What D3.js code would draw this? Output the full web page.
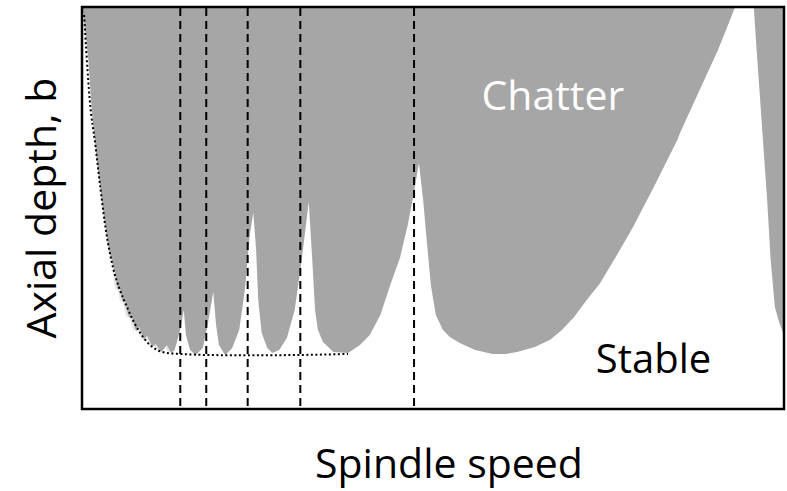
<!DOCTYPE html>
<html>
<head>
<meta charset="utf-8">
<script src="https://cdn.jsdelivr.net/npm/d3@7"></script>
<style>
  body { margin: 0; background: #fff; }
  svg { display: block; }
  text { font-family: "Open Sans", "Noto Sans", sans-serif; }
</style>
</head>
<body>
<svg id="mainsvg" width="787" height="491"></svg>
<script>
// lobe boundary, spindle speed (0-100) vs axial depth (0-100), arbitrary units
const lobeMainSpeed = [0.1, 0.9, 1.4, 2.1, 3.0, 3.8, 4.7, 5.1, 5.4, 5.8, 6.1, 6.7, 7.0, 7.7, 8.1, 8.8, 9.3, 10.0, 10.5, 11.3, 12.1, 12.7, 13.2, 14.0, 14.5, 14.8, 15.4, 16.2, 17.2, 17.9, 18.7, 19.1, 19.5, 20.4, 21.4, 22.4, 23.2, 23.9, 24.4, 24.8, 25.1, 25.6, 26.4, 27.1, 28.1, 29.2, 30.3, 31.3, 32.3, 32.8, 33.2, 33.6, 34.3, 35.8, 37.9, 39.6, 41.0, 42.5, 43.9, 45.3, 46.4, 47.3, 48.0, 48.6, 49.1, 49.7, 50.4, 51.4, 52.4, 53.8, 56.0, 58.5, 60.3, 62.0, 64.5, 66.7, 68.4, 70.1, 71.9, 73.8, 76.2, 78.5, 81.6, 84.8, 85.2, 88.0, 90.6, 93.0]
const lobeMainDepth = [99.8, 86.8, 74.4, 61.9, 49.5, 39.6, 34.1, 29.6, 30.1, 26.6, 27.1, 22.6, 23.6, 19.2, 20.6, 17.2, 18.2, 15.4, 16.2, 14.2, 15.9, 13.9, 14.7, 19.7, 24.6, 18.4, 14.7, 13.4, 15.2, 20.9, 29.1, 20.9, 15.9, 13.4, 15.2, 19.7, 29.6, 43.3, 48.8, 39.6, 27.1, 18.9, 15.2, 13.9, 14.7, 17.7, 24.6, 37.1, 51.5, 37.1, 24.6, 19.7, 16.7, 14.2, 13.9, 15.9, 18.4, 23.4, 30.8, 37.6, 45.8, 54.0, 61.2, 52.0, 42.0, 30.8, 23.4, 19.7, 17.9, 16.4, 14.7, 13.7, 13.7, 14.2, 15.4, 17.2, 19.7, 22.9, 27.1, 31.3, 38.3, 45.3, 55.7, 66.9, 68.7, 79.4, 89.3, 99.8]

const lobeRightSpeed = [95.7, 96.1, 96.6, 97.1, 97.6, 98.1, 98.7, 99.3, 100]
const lobeRightDepth = [99.8, 89.3, 76.9, 64.4, 52.0, 37.1, 25.4, 21.6, 18.4]

// stability limit envelope (dotted)
const envSpeed = [0.3, 0.6, 1.1, 1.9, 2.6, 3.4, 4.4, 5.4, 6.4, 7.4, 8.3, 9.4, 10.7, 12.3, 14.0, 19.7, 28.2, 37.9]
const envDepth = [98.0, 89.3, 76.9, 65.7, 55.2, 44.5, 35.3, 29.6, 25.4, 21.6, 18.9, 16.4, 14.7, 13.9, 13.7, 13.4, 13.4, 13.7]

// best spindle speeds (dashed)
const bestSpeeds = [14.0, 17.7, 23.6, 31.1, 47.3]

const labels = {x: 'Spindle speed', y: 'Axial depth, b', chatter: 'Chatter', stable: 'Stable'}

const margin = {left: 82, top: 7, right: 3, bottom: 82}
const width = 787 - margin.left - margin.right
const height = 491 - margin.top - margin.bottom

const svg = d3.select('#mainsvg')
const g = svg.append('g').attr('transform', `translate(${margin.left},${margin.top})`)

const x = d3.scaleLinear().domain([0, 100]).range([0, width])
const y = d3.scaleLinear().domain([0, 100]).range([height, 0])

const toPts = (sp, dp) => sp.map((s, i) => [s, dp[i]])

const area = d3.area()
    .x(d => x(d[0]))
    .y0(y(100))
    .y1(d => y(d[1]))
    .curve(d3.curveLinear)

const mainPts = toPts(lobeMainSpeed, lobeMainDepth)

// faint scallops along the small lobes on the left
g.append('path')
    .datum(mainPts.filter(d => d[0] > 4 && d[0] < 13.5))
    .attr('d', area)
    .attr('transform', 'translate(-2.5,0)')
    .attr('fill', '#e4e4e4')

g.append('path')
    .datum(mainPts)
    .attr('d', area)
    .attr('fill', '#a6a6a6')

g.append('path')
    .datum(toPts(lobeRightSpeed, lobeRightDepth))
    .attr('d', area)
    .attr('fill', '#a6a6a6')

// dotted envelope
g.append('path')
    .datum(toPts(envSpeed, envDepth))
    .attr('d', d3.line().x(d => x(d[0])).y(d => y(d[1])).curve(d3.curveMonotoneX))
    .attr('fill', 'none')
    .attr('stroke', '#000')
    .attr('stroke-width', 2)
    .attr('stroke-dasharray', '2,2.5')

// dashed lines
g.selectAll('.best')
    .data(bestSpeeds)
    .enter().append('line')
    .attr('class', 'best')
    .attr('x1', d => x(d)).attr('x2', d => x(d))
    .attr('y1', 1).attr('y2', height)
    .attr('stroke', '#000')
    .attr('stroke-width', 2)
    .attr('stroke-dasharray', '8,5')

// frame
g.append('rect')
    .attr('x', 0).attr('y', 0)
    .attr('width', width).attr('height', height)
    .attr('fill', 'none')
    .attr('stroke', '#000')
    .attr('stroke-width', 2.5)

g.append('text')
    .attr('x', x(56.9)).attr('y', y(74.4))
    .attr('fill', '#fff')
    .attr('font-size', 41)
    .text(labels.chatter)

g.append('text')
    .attr('x', x(73.2)).attr('y', y(9))
    .attr('fill', '#000')
    .attr('font-size', 40)
    .text(labels.stable)

svg.append('text')
    .attr('x', 449)
    .attr('y', 478)
    .attr('text-anchor', 'middle')
    .attr('font-size', 41)
    .text(labels.x)

svg.append('text')
    .attr('transform', `translate(56,${208}) rotate(-90)`)
    .attr('text-anchor', 'middle')
    .attr('font-size', 41)
    .text(labels.y)
</script>
</body>
</html>
